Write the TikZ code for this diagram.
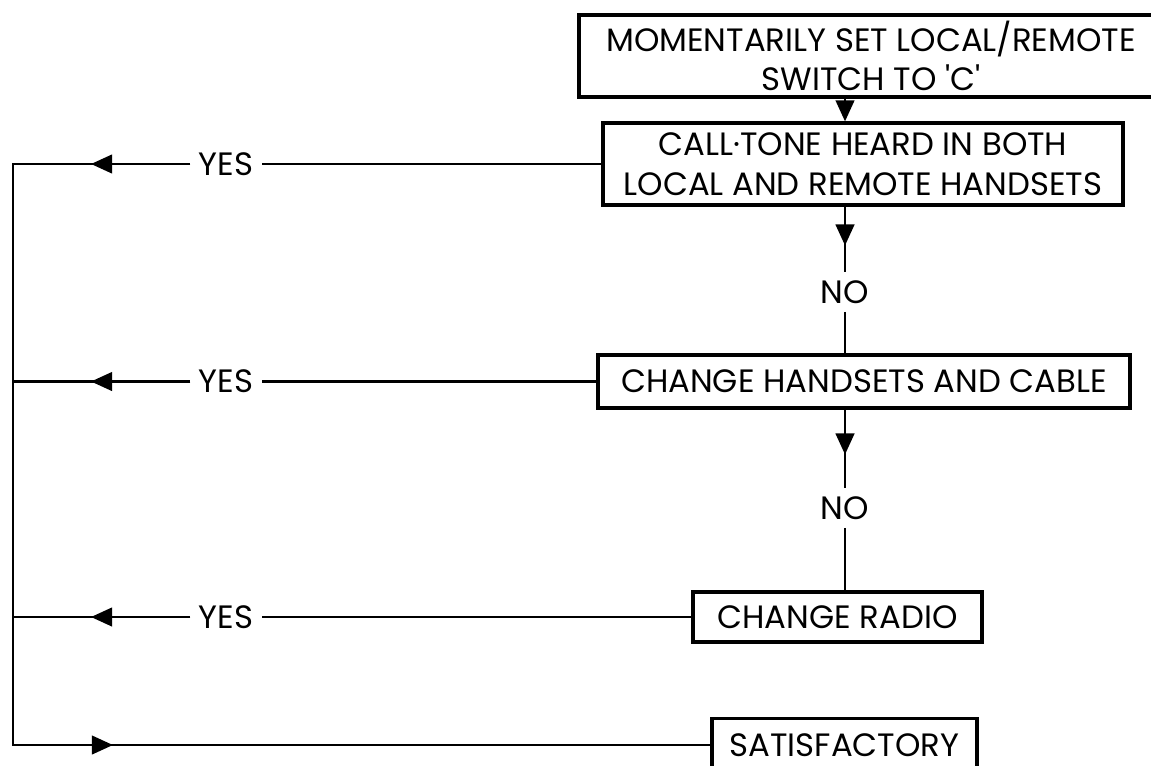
\documentclass[tikz,border=0pt]{standalone}
\usepackage{fontspec}
\setmainfont{Poppins}
\usetikzlibrary{arrows.meta,decorations.markings}

\begin{document}
\begin{tikzpicture}[x=0.02cm,y=-0.02cm,line width=1.6pt,
    >={Triangle[length=12pt,width=10.5pt]},
    box/.style={draw,line width=1.8pt,align=center,inner sep=0pt,
        font=\fontsize{18.4}{22.5}\selectfont},
    lbl/.style={inner sep=4pt,font=\fontsize{18.4}{22.5}\selectfont},
    tipat/.style={postaction={decorate},decoration={markings,
        mark=at position #1 with {\arrow{>}}}}]
    \useasboundingbox (0,0) rectangle (1151,765);

    \coordinate (spine) at (845,0);
    \coordinate (rail) at (13,0);

    \node[box,minimum width=116.8mm,minimum height=16.4mm] (setC) at (871,56)
        {MOMENTARILY SET LOCAL/REMOTE\\SWITCH TO \textquotesingle C\textquotesingle};
    \node[box,minimum width=104mm,minimum height=16.4mm] (tone) at (863,164)
        {CALL·TONE HEARD IN BOTH\\LOCAL AND REMOTE HANDSETS};
    \node[box,minimum width=106.4mm,minimum height=10.6mm] (hset) at (864,381.5)
        {CHANGE HANDSETS AND CABLE};
    \node[box,minimum width=57.8mm,minimum height=10mm] (radio) at (837.5,617)
        {CHANGE RADIO};
    \node[box,minimum width=53mm,minimum height=10.6mm] (ok) at (844.5,745)
        {SATISFACTORY};

    \node[lbl] (no1) at (845,292) {NO};
    \node[lbl] (no2) at (845,508) {NO};
    \node[lbl] (yes1) at (226,164) {YES};
    \node[lbl] (yes2) at (226,381.5) {YES};
    \node[lbl] (yes3) at (226,617) {YES};

    % down the middle
    \draw[->] (setC.south -| spine) -- (tone.north -| spine);
    \draw[tipat=0.78cm] (tone.south -| spine) -- (no1);
    \draw (no1) -- (hset.north -| spine);
    \draw[tipat=0.9cm] (hset.south -| spine) -- (no2);
    \draw (no2) -- (radio.north -| no2);

    % yes branches back to the rail
    \draw (tone.west) -- (yes1);
    \draw[tipat=-1.56cm] (yes1) -- (tone.west -| rail);
    \draw (hset.west) -- (yes2);
    \draw[tipat=-1.56cm] (yes2) -- (hset.west -| rail);
    \draw (radio.west) -- (yes3);
    \draw[tipat=-1.56cm] (yes3) -- (radio.west -| rail);
    \draw[line cap=rect] (tone.west -| rail) -- (ok.west -| rail);
    \draw[tipat=2cm] (ok.west -| rail) -- (ok.west);
\end{tikzpicture}
\end{document}
